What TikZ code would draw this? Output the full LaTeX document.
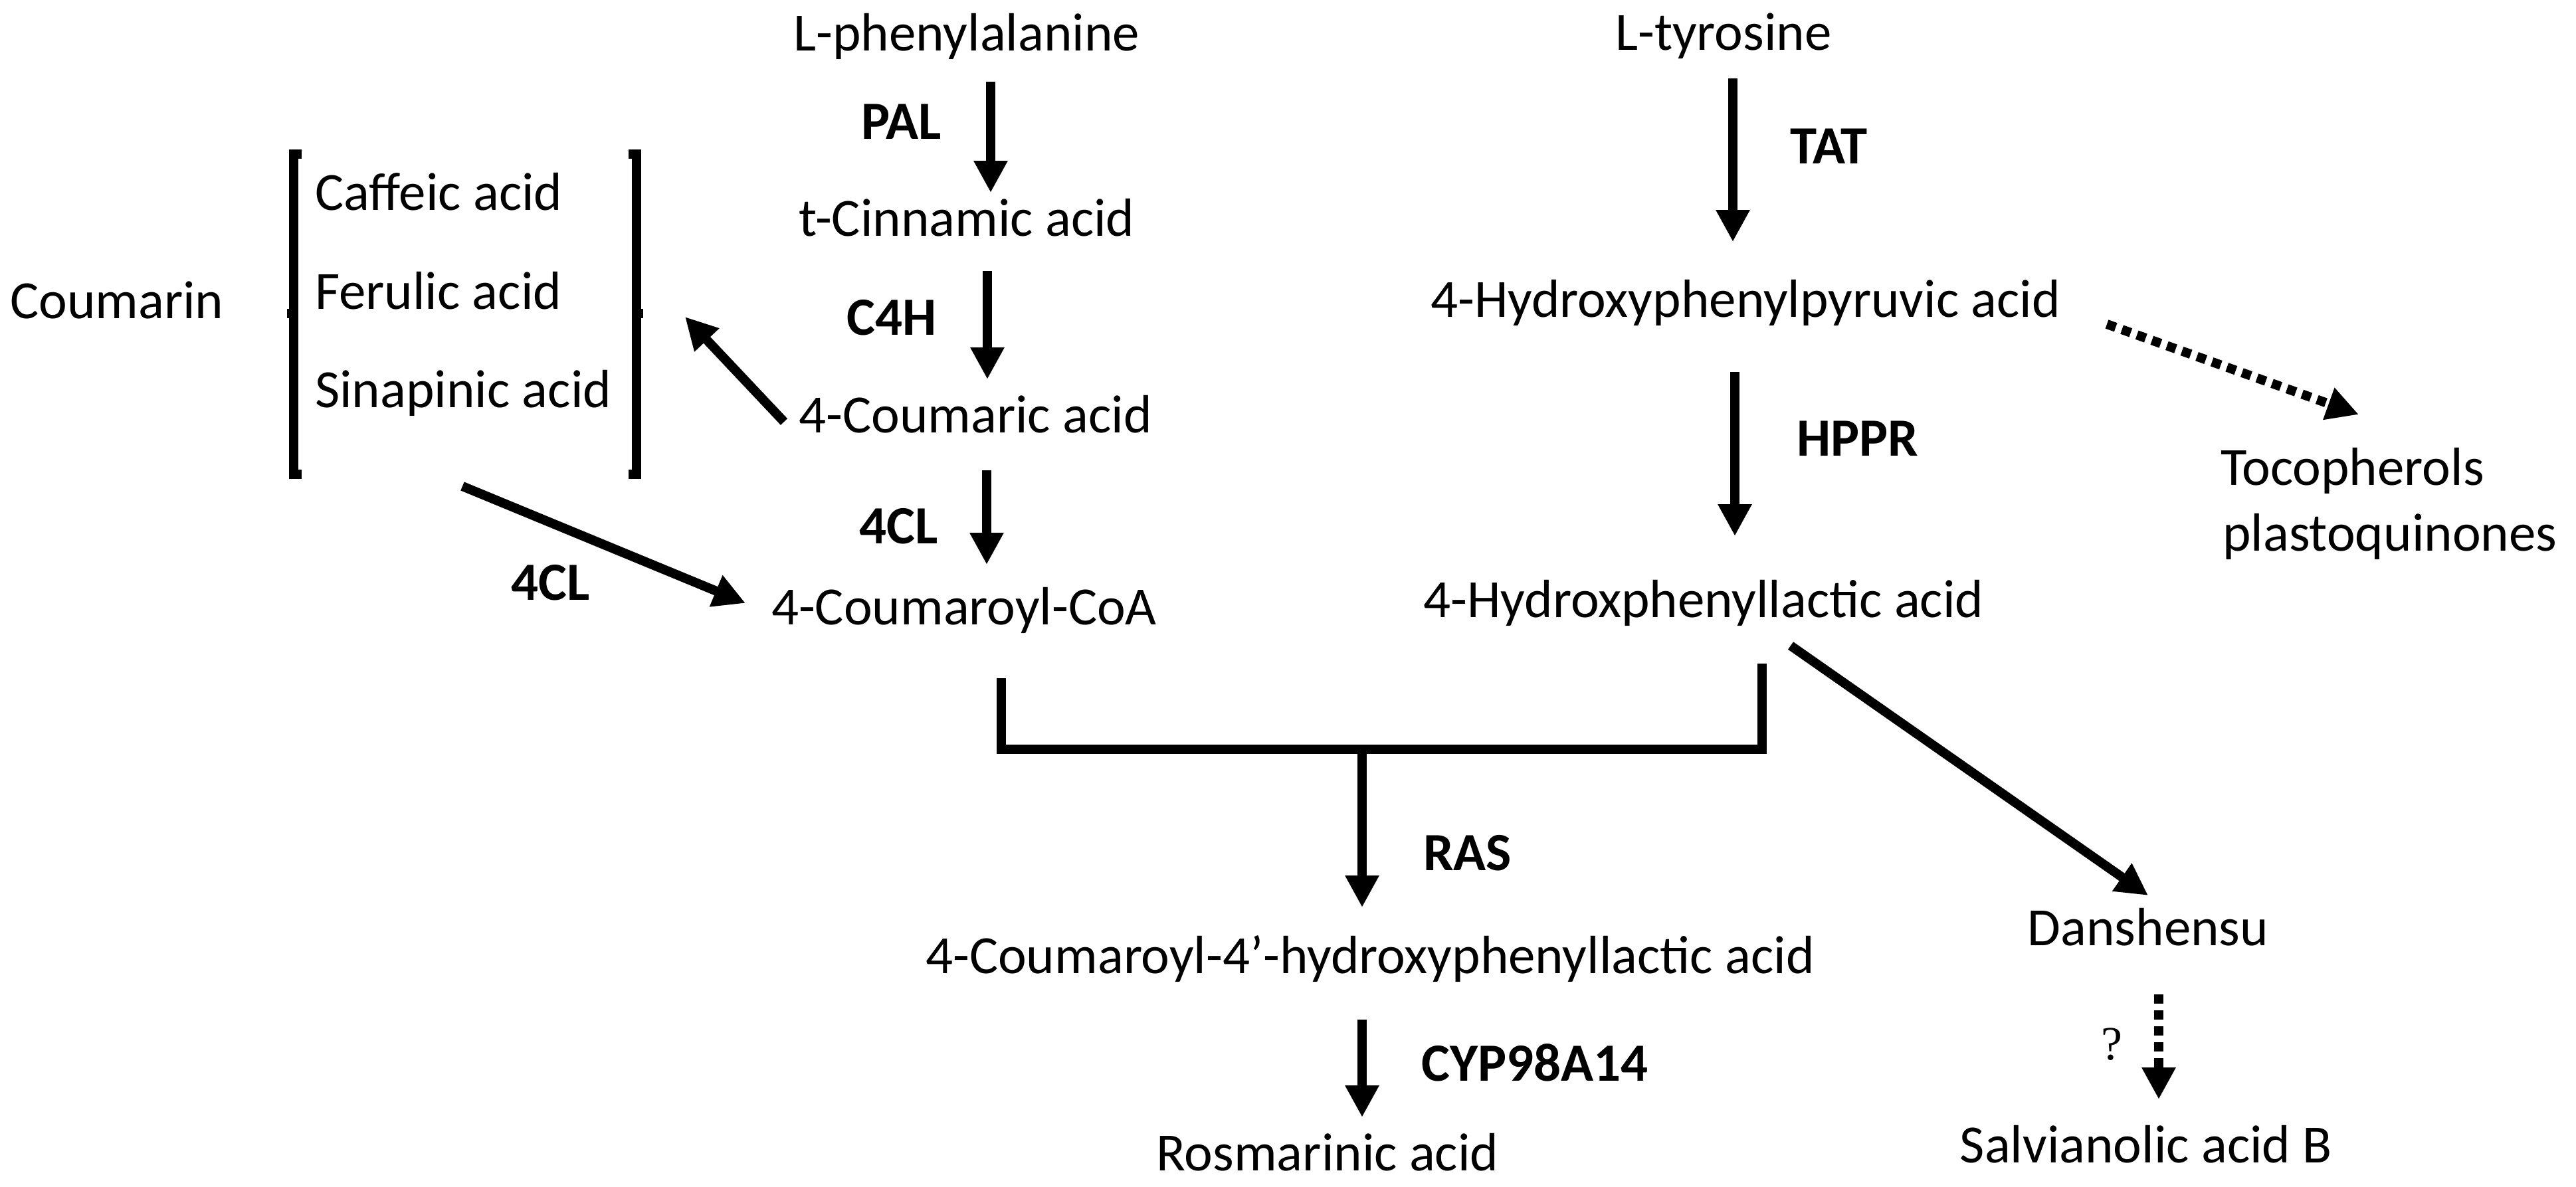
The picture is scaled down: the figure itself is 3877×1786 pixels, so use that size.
\documentclass[tikz,border=0pt]{standalone}
\usepackage{fontspec}
\setmainfont{Carlito}
\newfontfamily\qfont{Liberation Serif}
\usetikzlibrary{arrows.meta}
\tikzset{
  lbl/.style={inner sep=0pt, font=\fontsize{81}{80}\selectfont},
  enz/.style={inner sep=0pt, font=\fontsize{81}{80}\selectfont\bfseries, anchor=base west},
  conn/.style={line width=14pt, -{Triangle[length=48pt,width=48pt]}},
  dotconn/.style={conn, dash pattern=on 14pt off 10pt},
  bar/.style={line width=14pt}
}
\begin{document}
\begin{tikzpicture}[x={(1pt,0)}, y={(0,-1pt)}]
\useasboundingbox (0,0) rectangle (3877,1786);
% compounds
\node[lbl, anchor=base] (lphe) at (1455,76) {L-phenylalanine};
\node[lbl, anchor=base] (tcin) at (1455,355) {t-Cinnamic acid};
\node[lbl, anchor=base] (coum) at (1468,651) {4-Coumaric acid};
\node[lbl, anchor=base] (coa) at (1451,940) {4-Coumaroyl-CoA};
\node[lbl, anchor=base west] (caf) at (474,316) {Caffeic acid};
\node[lbl, anchor=base west] (fer) at (474,465) {Ferulic acid};
\node[lbl, anchor=base west] (sin) at (474,613) {Sinapinic acid};
\node[lbl, anchor=base west] (cmr) at (15,479) {Coumarin};
\node[lbl, anchor=base] (ltyr) at (2594,75) {L-tyrosine};
\node[lbl, anchor=base] (hppa) at (2627,477) {4-Hydroxyphenylpyruvic acid};
\node[lbl, anchor=base] (hpla) at (2564,929) {4-Hydroxphenyllactic acid};
\node[lbl, anchor=base west] (toc) at (3342,730) {Tocopherols};
\node[lbl, anchor=base west] (plq) at (3345,829) {plastoquinones};
\node[lbl, anchor=base] (chpla) at (2062,1465) {4-Coumaroyl-4’-hydroxyphenyllactic acid};
\node[lbl, anchor=base] (rosm) at (1998,1762) {Rosmarinic acid};
\node[lbl, anchor=base] (dans) at (3233,1423) {Danshensu};
\node[lbl, anchor=base] (salb) at (3230,1750) {Salvianolic acid B};
% enzymes
\node[enz] (pal) at (1296,209) {PAL};
\node[enz] (c4h) at (1274,504) {C4H};
\node[enz] (cl4a) at (1293,818) {4CL};
\node[enz, anchor=base] (cl4b) at (829,903) {4CL};
\node[enz] (tat) at (2694,246) {TAT};
\node[enz] (hppr) at (2704,686) {HPPR};
\node[enz] (ras) at (2142,1310) {RAS};
\node[enz] (cyp) at (2139,1627) {CYP98A14};
\node[inner sep=0pt, anchor=base, font=\fontsize{72}{72}\selectfont\qfont] (qm) at (3178,1595) {?};
% brackets
\draw[bar] (454,232) -- (442,232) -- (442,714) -- (454,714);
\draw[bar] (442,472) -- (432,472);
\draw[bar] (946,232) -- (958,232) -- (958,714) -- (946,714);
\draw[bar] (958,472) -- (968,472);
% connector end points
\coordinate (a1s) at (1491,123); \coordinate (a1e) at (1491,290);
\coordinate (a2s) at (1486,408); \coordinate (a2e) at (1486,571);
\coordinate (a3s) at (1485,708); \coordinate (a3e) at (1485,850);
\coordinate (a4s) at (2608,118); \coordinate (a4e) at (2608,364);
\coordinate (a5s) at (2611,560); \coordinate (a5e) at (2611,807);
\coordinate (a6s) at (2050,1128); \coordinate (a6e) at (2050,1366);
\coordinate (a7s) at (2050,1535); \coordinate (a7e) at (2050,1682);
\coordinate (a8s) at (1180,635); \coordinate (a8e) at (1031,477);
\coordinate (a9s) at (696,732); \coordinate (a9e) at (1122,908);
\coordinate (a10s) at (2695,972); \coordinate (a10e) at (3233,1348);
\coordinate (d1s) at (3171,488); \coordinate (d1e) at (3550,624);
\coordinate (d2s) at (3249,1497); \coordinate (d2e) at (3249,1655);
\coordinate (jl) at (1507,1021); \coordinate (jr) at (2652,999);
% connectors
\draw[conn] (a1s) -- (a1e);
\draw[conn] (a2s) -- (a2e);
\draw[conn] (a3s) -- (a3e);
\draw[conn] (a4s) -- (a4e);
\draw[conn] (a5s) -- (a5e);
\draw[conn] (a6s) -- (a6e);
\draw[conn] (a7s) -- (a7e);
\draw[conn] (a8s) -- (a8e);
\draw[conn] (a9s) -- (a9e);
\draw[conn] (a10s) -- (a10e);
\draw[dotconn] (d1s) -- (d1e);
\draw[dotconn] (d2s) -- (d2e);
\draw[bar] (jl) -- (jl |- a6s) -- (jr |- a6s) -- (jr);
\end{tikzpicture}
\end{document}
